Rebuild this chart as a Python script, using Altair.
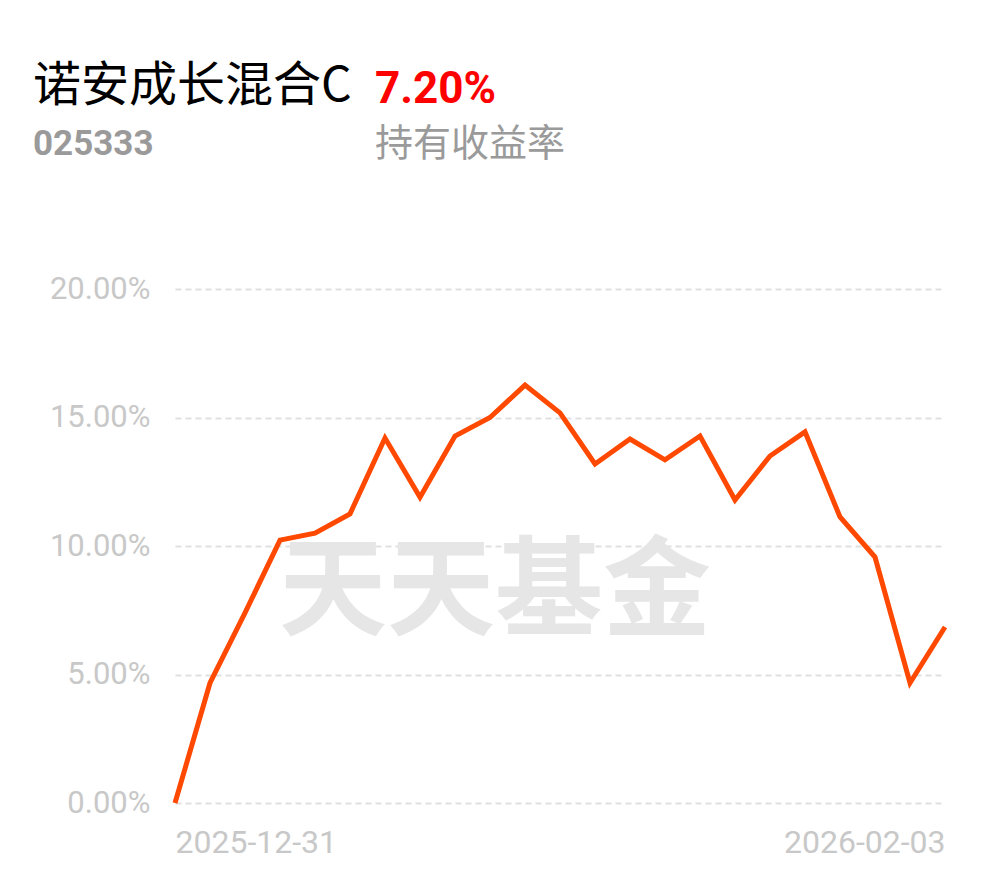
import altair as alt
import pandas as pd

fund_name = "诺安成长混合C"
fund_code = "025333"
return_text = "7.20%"
return_label = "持有收益率"
watermark = "天天基金"

dates = ["2025-12-31", "2026-01-05", "2026-01-06", "2026-01-07", "2026-01-08", "2026-01-09",
         "2026-01-12", "2026-01-13", "2026-01-14", "2026-01-15", "2026-01-16",
         "2026-01-19", "2026-01-20", "2026-01-21", "2026-01-22", "2026-01-23",
         "2026-01-26", "2026-01-27", "2026-01-28", "2026-01-29", "2026-01-30",
         "2026-02-02", "2026-02-03"]
values = [0.00, 4.67, 7.40, 10.23, 10.50, 11.25, 14.20, 11.90, 14.28, 15.00, 16.26,
          15.18, 13.19, 14.16, 13.35, 14.28, 11.79, 13.50, 14.44, 11.13, 9.57, 4.67, 6.85]
y_ticks = [0, 5, 10, 15, 20]

df = pd.DataFrame({"date": dates, "value": values})

line = alt.Chart(df).mark_line(color="#ff4800", strokeWidth=5).encode(
    x=alt.X("date:O", sort=None,
            scale=alt.Scale(type="point", padding=0),
            axis=alt.Axis(values=[dates[0], dates[-1]], title=None, labelAngle=0,
                          labelFlush=True, labelColor="#c8c8c8", labelFontSize=32,
                          labelFont="Roboto", labelPadding=24,
                          domain=False, ticks=False, grid=False)),
    y=alt.Y("value:Q",
            scale=alt.Scale(domain=[0, 20], nice=False, zero=True),
            axis=alt.Axis(values=y_ticks, title=None,
                          labelExpr="format(datum.value, '.2f') + '%'",
                          labelColor="#c8c8c8", labelFontSize=31, labelFont="Roboto",
                          labelPadding=25, domain=False, ticks=False,
                          grid=True, gridColor="#e0e0e0", gridDash=[6, 4],
                          gridWidth=2)),
)

wm = alt.Chart(pd.DataFrame({"t": [watermark]})).mark_text(
    font="Noto Sans CJK SC", fontWeight="bold", fontSize=108, color="#e6e6e6",
    align="center", baseline="middle"
).encode(text="t:N", x=alt.value(320), y=alt.value(306))

def label(text, x, y, size, color, weight="normal", font="Noto Sans CJK SC"):
    return alt.Chart(pd.DataFrame({"t": [text]})).mark_text(
        font=font, fontWeight=weight, fontSize=size, color=color,
        align="left", baseline="alphabetic"
    ).encode(text="t:N", x=alt.value(x), y=alt.value(y))

header = (
    label(fund_name, -142, -188, 48, "#000000")
    + label(fund_code, -142, -134, 35, "#9a9a9a", "bold", "Roboto")
    + label(return_text, 200, -186, 44, "#ff0000", "bold", "Roboto")
    + label(return_label, 200, -133, 38, "#9a9a9a")
)

chart = alt.layer(wm, line, header).properties(
    width=770, height=514,
    background="#ffffff",
    autosize=alt.AutoSizeParams(type="none"),
    padding={"left": 167, "top": 281, "right": 30, "bottom": 60},
).configure_view(strokeWidth=0, stroke=None)

chart.save("out.html", embed_options={"renderer": "svg", "actions": False})
